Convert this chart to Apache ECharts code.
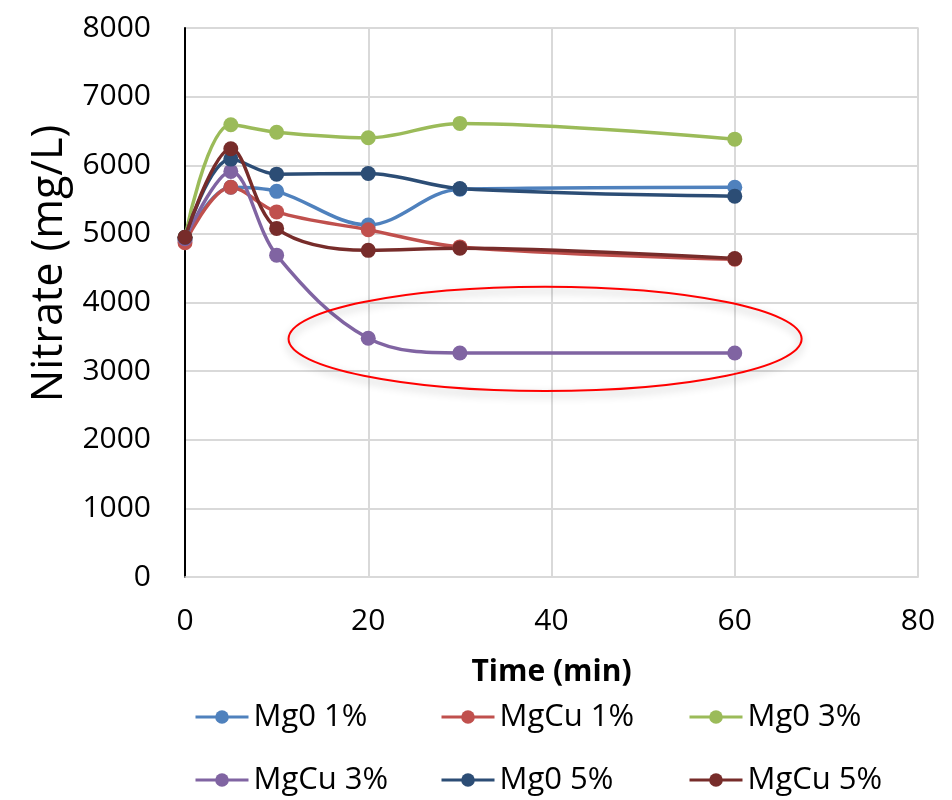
<!DOCTYPE html>
<html>
<head>
<meta charset="utf-8">
<script src="https://cdn.jsdelivr.net/npm/echarts@6/dist/echarts.min.js"></script>
<style>
  html, body { margin: 0; padding: 0; background: #fff; }
  #main { width: 952px; height: 800px; }
</style>
</head>
<body>
<div id="main"></div>
<script>
// time points (min)
var times = [0, 5, 10, 20, 30, 60];
var seriesNames = ["Mg0 1%", "MgCu 1%", "Mg0 3%", "MgCu 3%", "Mg0 5%", "MgCu 5%"];
var mg0_1 = [4910, 5680, 5620, 5130, 5650, 5680];
var mgcu_1 = [4870, 5680, 5320, 5060, 4810, 4630];
var mg0_3 = [4950, 6590, 6480, 6400, 6610, 6380];
var mgcu_3 = [4930, 5910, 4690, 3480, 3265, 3265];
var mg0_5 = [4950, 6090, 5870, 5880, 5660, 5550];
var mgcu_5 = [4950, 6240, 5080, 4760, 4790, 4640];
var colors = ["#4f81bd", "#c0504d", "#9bbb59", "#8064a2", "#2c4d75", "#772c2a"];
var yTicks = [0, 8000, 1000];
var xTicks = [0, 80, 20];

var allData = [mg0_1, mgcu_1, mg0_3, mgcu_3, mg0_5, mgcu_5];
var font = "'Open Sans', 'Liberation Sans', sans-serif";

var myChart = echarts.init(document.getElementById("main"));

var series = seriesNames.map(function (name, i) {
  return {
    name: name,
    type: "line",
    smooth: 0.35,
    symbol: "circle",
    symbolSize: 15,
    color: colors[i],
    lineStyle: { width: 3.5, color: colors[i] },
    itemStyle: { color: colors[i] },
    data: times.map(function (t, j) { return [t, allData[i][j]]; }),
    z: 3
  };
});

// one legend per slot so the columns line up like the original
var legendLeft = [194, 440, 688];
var legendTop = [701, 764];
var legends = seriesNames.map(function (name, i) {
  return {
    data: [{ name: name, itemStyle: { color: colors[i] }, lineStyle: { width: 3 } }],
    left: legendLeft[i % 3],
    top: legendTop[Math.floor(i / 3)],
    padding: 0,
    itemWidth: 53,
    itemHeight: 17,
    itemGap: 4,
    textStyle: { fontSize: 31, lineHeight: 32, color: "#000", fontFamily: font },
    selectedMode: false
  };
});

var option = {
  animation: false,
  backgroundColor: "#fff",
  legend: legends,
  grid: { left: 185, right: 34, top: 28, bottom: 223, show: true, borderColor: "#d9d9d9", borderWidth: 1.5 },
  xAxis: {
    type: "value",
    min: xTicks[0],
    max: xTicks[1],
    interval: xTicks[2],
    name: "Time (min)",
    nameLocation: "middle",
    nameGap: 80,
    nameTextStyle: { fontSize: 30, fontWeight: "bold", color: "#000", fontFamily: font },
    axisLine: { lineStyle: { color: "#d9d9d9", width: 1.5 } },
    axisTick: { show: false },
    axisLabel: { fontSize: 30, color: "#000", margin: 29, fontFamily: font },
    splitLine: { show: true, lineStyle: { color: "#d9d9d9", width: 2 } }
  },
  yAxis: {
    type: "value",
    min: yTicks[0],
    max: yTicks[1],
    interval: yTicks[2],
    name: "Nitrate (mg/L)",
    nameLocation: "middle",
    nameGap: 112,
    nameTextStyle: { fontSize: 43, color: "#000", fontFamily: font, padding: [0, 0, 0, 78] },
    axisLine: { show: true, lineStyle: { color: "#000", width: 2 } },
    axisTick: { show: false },
    axisLabel: { fontSize: 30, color: "#000", margin: 34, fontFamily: font, formatter: function (v) { return String(v); } },
    splitLine: { show: true, lineStyle: { color: "#d9d9d9", width: 2 } }
  },
  series: series
};

myChart.setOption(option);

// red ellipse annotation around the MgCu 3% plateau
var c = myChart.convertToPixel({ gridIndex: 0 }, [39.3, 3470]);
var edge = myChart.convertToPixel({ gridIndex: 0 }, [39.3 + 28, 3470 + 760]);
var rx = edge[0] - c[0];
var ry = c[1] - edge[1];
myChart.setOption({
  graphic: [{
    type: "ellipse",
    shape: { cx: c[0], cy: c[1], rx: rx, ry: ry },
    style: {
      fill: "rgba(0,0,0,0)",
      stroke: "#ff0000",
      lineWidth: 2,
      shadowBlur: 8,
      shadowColor: "rgba(0,0,0,0.3)",
      shadowOffsetY: 4
    },
    z: 10
  }]
});
</script>
</body>
</html>
